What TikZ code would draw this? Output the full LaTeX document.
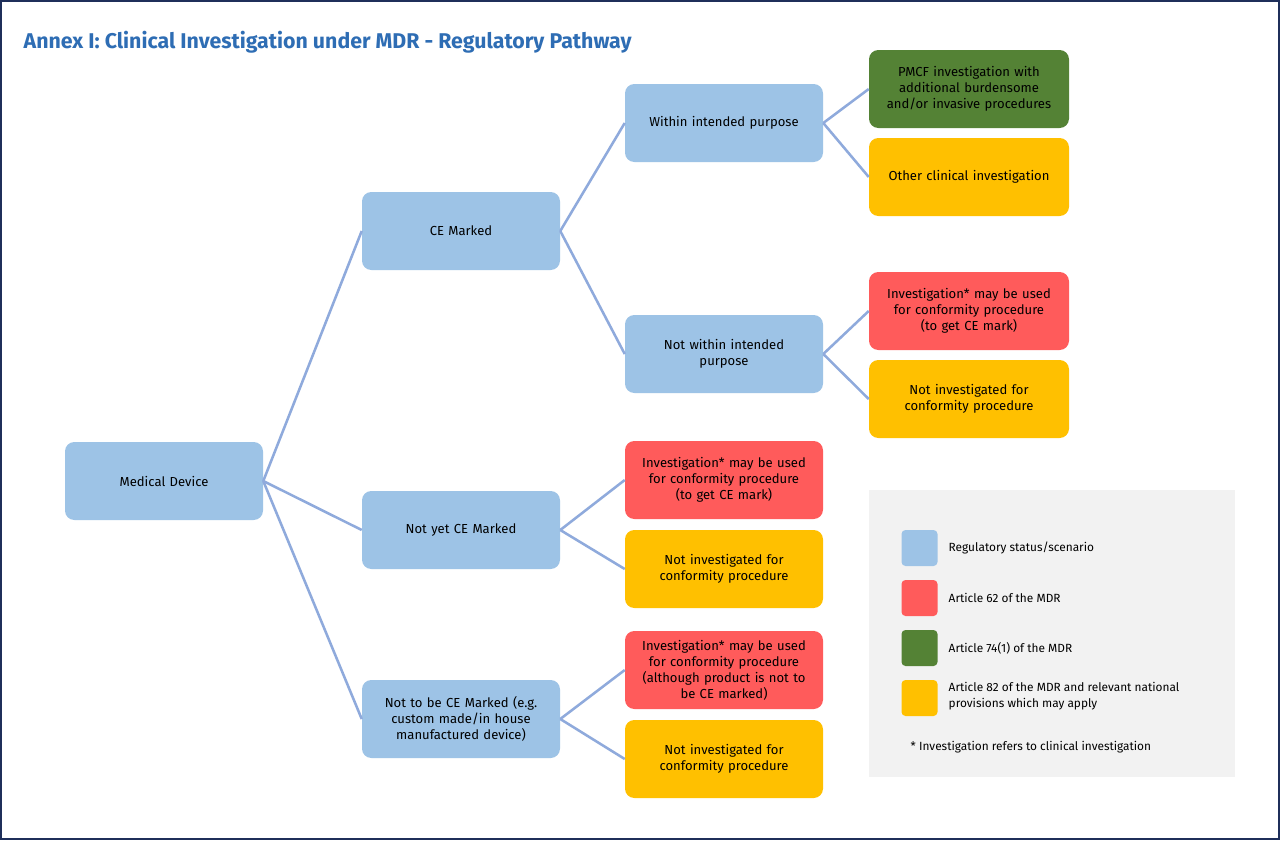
\documentclass[tikz,border=0pt]{standalone}
\usepackage{fontspec}
\setmainfont{Fira Sans}
\begin{document}
\begin{tikzpicture}[x=0.75pt,y=-0.75pt,
 box/.style={rounded corners=7pt,minimum width=148.5pt,minimum height=58.5pt,align=center,font=\fontsize{9.8}{12}\selectfont,text width=144pt,inner sep=2pt},
 bl/.style={box,fill=cblue}, rd/.style={box,fill=cred}, gr/.style={box,fill=cgreen,minimum width=150pt}, yl/.style={box,fill=cyel},
 rd2/.style={rd,minimum width=150pt}, yl2/.style={yl,minimum width=150pt},
 ln/.style={draw=cline,line width=1.9pt},
 sw/.style={rounded corners=3pt,minimum width=27pt,minimum height=27pt,inner sep=0pt},
 lt/.style={anchor=west,align=left,font=\fontsize{8.9}{11.5}\selectfont}]
\definecolor{cblue}{HTML}{9DC3E6}
\definecolor{cred}{HTML}{FF5B5B}
\definecolor{cgreen}{HTML}{548235}
\definecolor{cyel}{HTML}{FFC000}
\definecolor{cline}{HTML}{8FAADC}
\definecolor{ctitle}{HTML}{2E6DB4}
\definecolor{cframe}{HTML}{1F2F5A}
\fill[white] (0,0) rectangle (1280,840);
\draw[cframe,line width=1.2pt] (1,1) rectangle (1279,839);
\node[anchor=west,text=ctitle,font=\bfseries\fontsize{16}{19}\selectfont] (title) at (19,42) {Annex I: Clinical Investigation under MDR - Regulatory Pathway};
\node[bl] (md) at (164,481) {Medical Device};
\node[bl] (ce) at (461,231) {CE Marked};
\node[bl] (ny) at (461,530) {Not yet CE Marked};
\node[bl] (nt) at (461,719) {Not to be CE Marked (e.g.\\custom made/in house\\manufactured device)};
\node[bl] (wi) at (724,123) {Within intended purpose};
\node[bl] (nw) at (724,354) {Not within intended\\purpose};
\node[rd] (r1) at (724,480) {Investigation* may be used\\for conformity procedure\\(to get CE mark)};
\node[yl] (y1) at (724,569) {Not investigated for\\conformity procedure};
\node[rd] (r2) at (724,670) {Investigation* may be used\\for conformity procedure\\(although product is not to\\be CE marked)};
\node[yl] (y2) at (724,759) {Not investigated for\\conformity procedure};
\node[gr] (g1) at (969,89) {PMCF investigation with\\additional burdensome\\and/or invasive procedures};
\node[yl2] (y3) at (969,177) {Other clinical investigation};
\node[rd2] (r3) at (969,311) {Investigation* may be used\\for conformity procedure\\(to get CE mark)};
\node[yl2] (y4) at (969,399) {Not investigated for\\conformity procedure};
\foreach \a/\b in {md/ce,md/ny,md/nt,ce/wi,ce/nw,ny/r1,ny/y1,nt/r2,nt/y2,wi/g1,wi/y3,nw/r3,nw/y4}
 \draw[ln] (\a.east) -- (\b.west);
\fill[black!5] (869,490) rectangle (1235,777);
\node[sw,fill=cblue] (s1) at (919.5,548) {};
\node[sw,fill=cred] (s2) at (919.5,598) {};
\node[sw,fill=cgreen] (s3) at (919.5,648) {};
\node[sw,fill=cyel] (s4) at (919.5,698) {};
\node[lt] (t1) at (944,548) {Regulatory status/scenario};
\node[lt] (t2) at (944,598) {Article 62 of the MDR};
\node[lt] (t3) at (944,648) {Article 74(1) of the MDR};
\node[lt] (t4) at (944,696) {Article 82 of the MDR and relevant national\\provisions which may apply};
\node[lt] (fn) at (906,747) {* Investigation refers to clinical investigation};
\end{tikzpicture}
\end{document}
